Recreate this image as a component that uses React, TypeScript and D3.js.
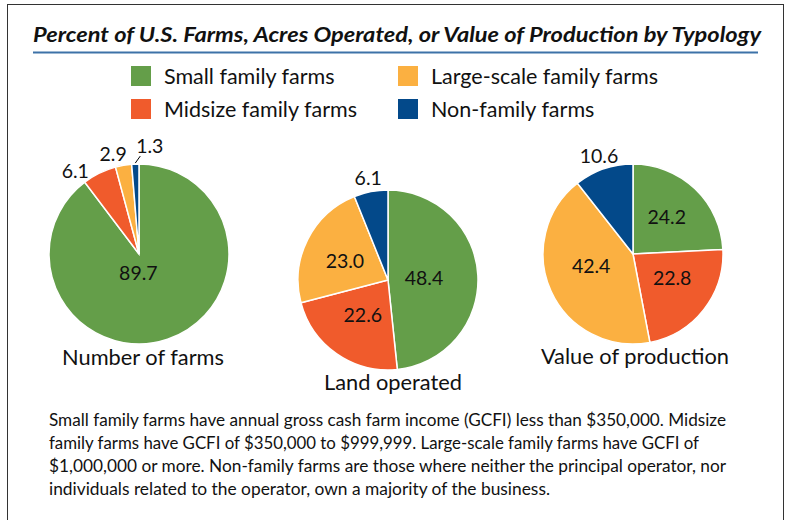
import React from "react";
import * as d3 from "d3";

const categories = ["Small family farms", "Midsize family farms", "Large-scale family farms", "Non-family farms"];
const colors = ["#649e49", "#f05b2c", "#fbb041", "#03498a"];
const chartTitles = ["Number of farms", "Land operated", "Value of production"];
const farmsValues = [89.7, 6.1, 2.9, 1.3];
const landValues = [48.4, 22.6, 23.0, 6.1];
const productionValues = [24.2, 22.8, 42.4, 10.6];
const title = "Percent of U.S. Farms, Acres Operated, or Value of Production by Typology";
const footnote = [
  "Small family farms have annual gross cash farm income (GCFI) less than $350,000. Midsize",
  "family farms have GCFI of $350,000 to $999,999. Large-scale family farms have GCFI of",
  "$1,000,000 or more. Non-family farms are those where neither the principal operator, nor",
  "individuals related to the operator, own a majority of the business.",
];

const FONT = "Lato, 'Open Sans', sans-serif";
const R = 90;

type PieProps = {
  values: number[];
  cx: number;
  cy: number;
  label: string;
  labelY: number;
  labelDx: number;
  nudges?: Record<number, [number, number]>;
};

function Pie({ values, cx, cy, label, labelY, labelDx, nudges = {} }: PieProps) {
  const pie = d3.pie<number>().sort(null).value((d) => d).startAngle(0).endAngle(2 * Math.PI);
  const arcs = pie(values);
  const arc = d3.arc<d3.PieArcDatum<number>>().innerRadius(0).outerRadius(R);
  const polar = (a: number, r: number) => [Math.sin(a) * r, -Math.cos(a) * r];
  return (
    <g transform={`translate(${cx},${cy})`}>
      {arcs.map((a, i) => (
        <path key={i} d={arc(a) || ""} fill={colors[i]} stroke="#fff" strokeWidth={1.5} />
      ))}
      {arcs.map((a, i) => {
        const mid = (a.startAngle + a.endAngle) / 2;
        const v = values[i];
        const outside = v < 11;
        const r = outside ? 104 : v > 60 ? 20 : 46;
        let [x, y] = polar(mid, r);
        const n = nudges[i];
        if (n) {
          x += n[0];
          y += n[1];
        }
        let leader = null as any;
        if (outside && v < 2) {
          const [x0, y0] = polar(mid, R + 1);
          leader = <line x1={x0} y1={y0} x2={x0 + 5} y2={y0 - 7} stroke="#000" strokeWidth={1} />;
        }
        return (
          <g key={"l" + i}>
            {leader}
            <text x={x} y={y} textAnchor="middle" dominantBaseline="central" fontSize={19.5} fontFamily={FONT} fill="#111">
              {v.toFixed(1)}
            </text>
          </g>
        );
      })}
      <text x={labelDx} y={labelY - cy} textAnchor="middle" dominantBaseline="central" fontSize={21.8} fontFamily={FONT} fill="#111">
        {label}
      </text>
    </g>
  );
}

export default function App() {
  const legendX = [131, 398];
  const legendY = [66, 99];
  const footLens = [677, 650, 677, 501];
  return (
    <svg width={786} height={520} style={{ position: "absolute", left: 0, top: 0 }}>
      <rect x={0} y={0} width={786} height={520} fill="#fff" />
      <rect x={7.5} y={4.5} width={776} height={530} fill="none" stroke="#333" strokeWidth={1} />
      <text x={33} y={42} fontSize={20} fontWeight="bold" fontStyle="italic" fontFamily={FONT} fill="#111" textLength={728} lengthAdjust="spacingAndGlyphs">
        {title}
      </text>
      <line x1={33} x2={758} y1={52.5} y2={52.5} stroke="#3d72a8" strokeWidth={2} />
      {categories.map((c, i) => {
        const colIdx = i === 0 || i === 1 ? 0 : 1;
        const rowIdx = i === 0 || i === 2 ? 0 : 1;
        return (
          <g key={c}>
            <rect x={legendX[colIdx]} y={legendY[rowIdx]} width={20} height={20} fill={colors[i]} />
            <text x={legendX[colIdx] + 33} y={legendY[rowIdx] + 10} dominantBaseline="central" fontSize={21.5} fontFamily={FONT} fill="#111">
              {c}
            </text>
          </g>
        );
      })}
      <Pie
        values={farmsValues}
        cx={139}
        cy={254}
        label={chartTitles[0]}
        labelY={356}
        labelDx={4}
        nudges={{ 0: [-7, 0], 1: [-18, 10], 2: [-8, 2], 3: [15, -5] }}
      />
      <Pie
        values={landValues}
        cx={388}
        cy={280}
        label={chartTitles[1]}
        labelY={381}
        labelDx={5}
        nudges={{ 0: [-10, 0], 1: [1, -3], 2: [-2, 1] }}
      />
      <Pie
        values={productionValues}
        cx={633}
        cy={254}
        label={chartTitles[2]}
        labelY={355}
        labelDx={2}
        nudges={{ 0: [2, -4], 1: [3, -5], 2: [0, -8] }}
      />
      {footnote.map((line, i) => (
        <text key={i} x={49} y={426 + i * 23} fontSize={17} fontFamily={FONT} fill="#111" textLength={footLens[i]} lengthAdjust="spacingAndGlyphs">
          {line}
        </text>
      ))}
    </svg>
  );
}
